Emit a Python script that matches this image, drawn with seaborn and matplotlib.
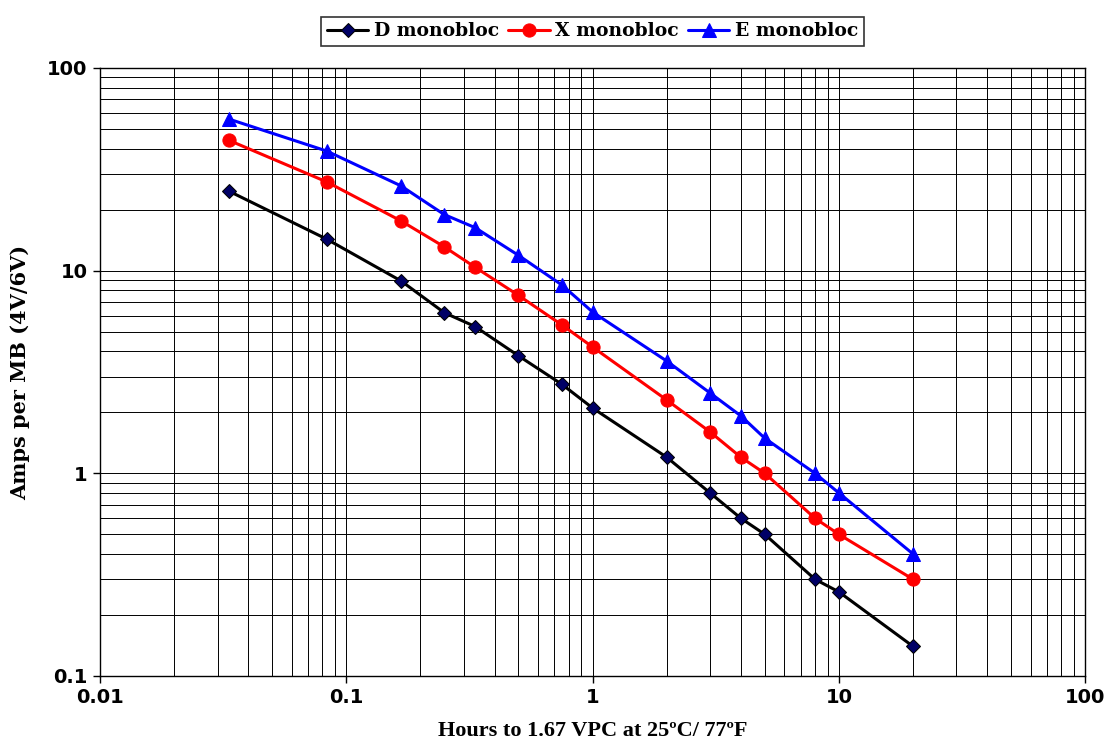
import pandas as pd
import matplotlib.pyplot as plt
import seaborn as sns

# Discharge time (hours) and current per monobloc for each model
hours = [0.0333, 0.0833, 0.1667, 0.25, 0.3333, 0.5, 0.75, 1, 2, 3, 4, 5, 8, 10, 20]
d_amps = [24.7, 14.3, 8.9, 6.2, 5.3, 3.8, 2.75, 2.1, 1.2, 0.8, 0.6, 0.5, 0.3, 0.26, 0.14]
x_amps = [44, 27.4, 17.6, 13.1, 10.4, 7.55, 5.4, 4.2, 2.3, 1.6, 1.2, 1.0, 0.6, 0.5, 0.3]
e_amps = [56, 38.9, 26.2, 18.9, 16.3, 11.9, 8.5, 6.25, 3.58, 2.49, 1.92, 1.49, 1.0, 0.8, 0.4]
series_names = ["D monobloc", "X monobloc", "E monobloc"]

data = pd.DataFrame({
  "Hours": hours * 3,
  "Amps": d_amps + x_amps + e_amps,
  "Model": [n for n in series_names for _ in hours],
})

sns.set_style("white")
plt.rcParams.update({"text.color": "black", "axes.labelcolor": "black",
                     "xtick.color": "black", "ytick.color": "black"})

fig = plt.figure(figsize=(11.14, 7.51), dpi=100)
ax = fig.add_axes([0.0898, 0.0999, 0.8843, 0.8096])

# One call per series so each keeps its own marker look
styles = {
  "D monobloc": dict(color="black", marker="D", markersize=7,
                     markerfacecolor="#000066", markeredgecolor="black"),
  "X monobloc": dict(color="red", marker="o", markersize=9.5,
                     markerfacecolor="red", markeredgecolor="red"),
  "E monobloc": dict(color="blue", marker="^", markersize=10,
                     markerfacecolor="blue", markeredgecolor="blue"),
}
for name in series_names:
  sns.lineplot(data=data[data["Model"] == name], x="Hours", y="Amps",
               ax=ax, label=name, linewidth=2.2, **styles[name])

ax.set_xscale("log")
ax.set_yscale("log")
ax.set_xlim(0.01, 100)
ax.set_ylim(0.1, 100)

ax.grid(True, which="both", color="black", linewidth=0.7)
ax.set_axisbelow(True)
for spine in ax.spines.values():
  spine.set_color("black")
  spine.set_linewidth(1.0)

ax.set_xticks([0.01, 0.1, 1, 10, 100])
ax.set_xticklabels(["0.01", "0.1", "1", "10", "100"])
ax.set_yticks([0.1, 1, 10, 100])
ax.set_yticklabels(["0.1", "1", "10", "100"])
ax.tick_params(axis="both", which="major", length=5, width=1, direction="out",
               bottom=True, left=True, pad=4)
ax.tick_params(axis="both", which="minor", length=0)
for lbl in ax.get_xticklabels() + ax.get_yticklabels():
  lbl.set_fontfamily("DejaVu Sans")
  lbl.set_fontweight("bold")
  lbl.set_fontsize(14)

ax.set_xlabel("Hours to 1.67 VPC at 25ºC/ 77ºF", fontfamily="Liberation Serif",
              fontweight="bold", fontsize=16, labelpad=10)
ax.set_ylabel("Amps per MB (4V/6V)", fontfamily="DejaVu Serif",
              fontweight="bold", fontsize=15, labelpad=12)

leg = ax.legend(loc="center", bbox_to_anchor=(0.5, 1.06), ncol=3,
                frameon=True, fancybox=False, edgecolor="black",
                prop={"family": "DejaVu Serif", "weight": "bold", "size": 13.5},
                handlelength=2.2, handletextpad=0.3, columnspacing=0.5,
                borderpad=0.3)
leg.get_frame().set_linewidth(1.2)

plt.savefig("out.png", dpi=100)
